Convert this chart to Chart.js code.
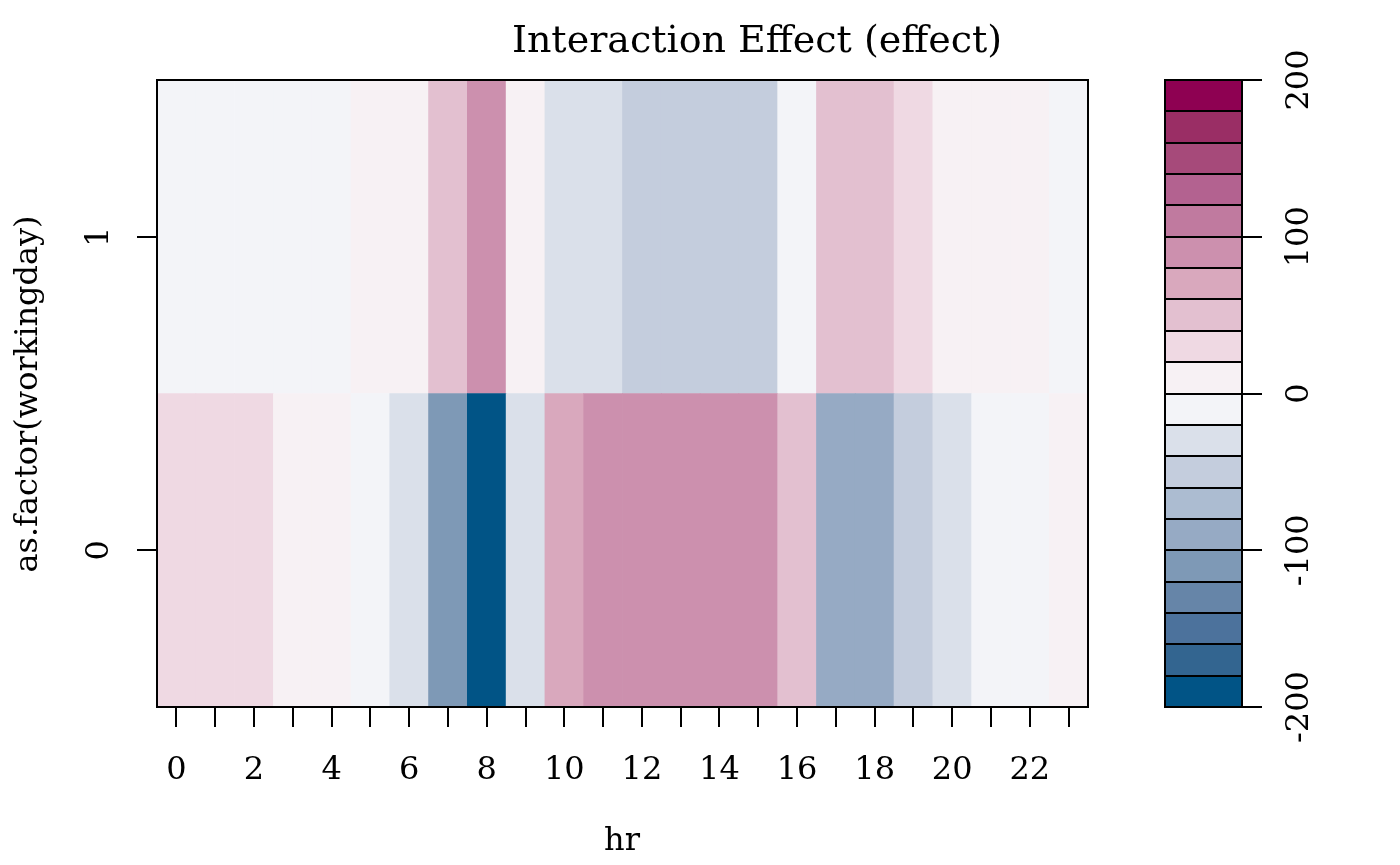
<!DOCTYPE html>
<html>
<head>
<meta charset="utf-8">
<script src="https://cdn.jsdelivr.net/npm/chart.js@4.4.1/dist/chart.umd.min.js"></script>
<style>
  html, body { margin: 0; padding: 0; background: #fff; }
  #wrap { position: relative; width: 1400px; height: 865px; }
  #wrap canvas { position: absolute; left: 0; top: 0; }
</style>
</head>
<body>
<div id="wrap">
  <canvas id="heat" width="1400" height="865"></canvas>
  <canvas id="bar" width="1400" height="865"></canvas>
</div>
<script>
// hours on the x axis
const hours = ["0","1","2","3","4","5","6","7","8","9","10","11","12","13","14","15","16","17","18","19","20","21","22","23"];
// workingday levels on the y axis
const workingday = [0, 1];
// interaction effect per hour
const effectWd0 = [30, 30, 30, 8, 8, -8, -30, -110, -198, -30, 70, 90, 90, 90, 90, 90, 50, -90, -90, -50, -30, -8, -8, 8];
const effectWd1 = [-8, -8, -8, -8, -8, 8, 8, 50, 90, 8, -30, -30, -50, -50, -50, -50, -8, 50, 50, 30, 8, 8, 8, -8];
// colour breaks and palette (blue -> white -> red)
const breaks = [-200, -180, -160, -140, -120, -100, -80, -60, -40, -20, 0, 20, 40, 60, 80, 100, 120, 140, 160, 180, 200];
const palette = ["#015486", "#336590", "#4c729c", "#6685a8", "#7e99b6", "#96aac4", "#acbcd1", "#c4cddd", "#dae0ea", "#f3f4f8",
                 "#f7f1f4", "#efd9e3", "#e3c0d0", "#d9a8bd", "#cc90ae", "#c07a9f", "#b36290", "#a64a7a", "#9a2e65", "#8e0152"];
const legendTicks = [-200, -100, 0, 100, 200];

const FONT = "'DejaVu Serif', serif";

function colourFor(v) {
  for (let i = 0; i < palette.length; i++) {
    if (v < breaks[i + 1]) return palette[i];
  }
  return palette[palette.length - 1];
}

// draws a frame round the plot area
const boxPlugin = {
  id: 'box',
  afterDraw(chart) {
    const a = chart.chartArea, ctx = chart.ctx;
    ctx.save();
    ctx.strokeStyle = '#000';
    ctx.lineWidth = 2;
    ctx.strokeRect(a.left, a.top, a.right - a.left, a.bottom - a.top);
    ctx.restore();
  }
};

// rotated y labels, like R's las=0
function rotatedLabels(axisId, values, x, size) {
  return {
    id: 'rot_' + axisId,
    afterDraw(chart) {
      const ctx = chart.ctx, sc = chart.scales[axisId];
      ctx.save();
      ctx.fillStyle = '#000';
      ctx.font = size + 'px ' + FONT;
      ctx.textAlign = 'center';
      ctx.textBaseline = 'middle';
      values.forEach(v => {
        ctx.save();
        ctx.translate(x, sc.getPixelForValue(v));
        ctx.rotate(-Math.PI / 2);
        ctx.fillText(String(v), 0, 0);
        ctx.restore();
      });
      ctx.restore();
    }
  };
}

const textPlugin = {
  id: 'texts',
  afterDraw(chart) {
    const ctx = chart.ctx;
    ctx.save();
    ctx.fillStyle = '#000';
    ctx.textAlign = 'center';
    ctx.textBaseline = 'middle';
    ctx.font = '38px ' + FONT;
    ctx.fillText('Interaction Effect (effect)', 757, 42);
    ctx.font = '32px ' + FONT;
    ctx.fillText('hr', 622, 842);
    ctx.save();
    ctx.translate(29, 394);
    ctx.rotate(-Math.PI / 2);
    ctx.fillText('as.factor(workingday)', 0, 0);
    ctx.restore();
    ctx.restore();
  }
};

new Chart(document.getElementById('heat'), {
  type: 'bar',
  data: {
    labels: hours,
    datasets: [
      {
        data: effectWd0.map(() => [workingday[0] - 0.5, workingday[0] + 0.5]),
        backgroundColor: effectWd0.map(colourFor)
      },
      {
        data: effectWd1.map(() => [workingday[1] - 0.5, workingday[1] + 0.5]),
        backgroundColor: effectWd1.map(colourFor)
      }
    ].map(d => Object.assign(d, { grouped: false, barPercentage: 1, categoryPercentage: 1, borderWidth: 0 }))
  },
  options: {
    responsive: false,
    animation: false,
    layout: { padding: { top: 80, right: 312, left: 0, bottom: 0 } },
    plugins: { legend: { display: false }, tooltip: { enabled: false } },
    scales: {
      x: {
        offset: true,
        grid: { offset: false, drawOnChartArea: false, color: '#000', lineWidth: 2, tickLength: 20 },
        border: { display: false },
        ticks: {
          autoSkip: false, maxRotation: 0, color: '#000', padding: 24,
          font: { family: FONT, size: 32 },
          callback: function (v, i) { return i % 2 === 0 ? this.getLabelForValue(v) : ''; }
        },
        afterFit(s) { s.height = 158; }
      },
      y: {
        min: -0.5, max: 1.5,
        afterBuildTicks(s) { s.ticks = workingday.map(v => ({ value: v })); },
        grid: { drawOnChartArea: false, color: '#000', lineWidth: 2, tickLength: 20 },
        border: { display: false },
        ticks: { display: false },
        afterFit(s) { s.width = 157; }
      }
    }
  },
  plugins: [boxPlugin, textPlugin, rotatedLabels('y', workingday, 100, 32)]
});

new Chart(document.getElementById('bar'), {
  type: 'bar',
  data: {
    labels: [''],
    datasets: palette.map((c, i) => ({
      data: [[breaks[i], breaks[i + 1]]],
      backgroundColor: c,
      borderWidth: 0,
      grouped: false,
      barPercentage: 1,
      categoryPercentage: 1
    }))
  },
  options: {
    responsive: false,
    animation: false,
    layout: { padding: { top: 80, left: 1165, right: 0, bottom: 158 } },
    plugins: { legend: { display: false }, tooltip: { enabled: false } },
    scales: {
      x: { display: false },
      // separator lines between the colour bins
      bins: {
        axis: 'y',
        position: 'left',
        min: -200, max: 200,
        afterBuildTicks(s) { s.ticks = breaks.map(v => ({ value: v })); },
        grid: { drawOnChartArea: true, drawTicks: false, color: '#000', lineWidth: 2, z: 1 },
        border: { display: false },
        ticks: { display: false },
        afterFit(s) { s.width = 0; }
      },
      y: {
        position: 'right',
        min: -200, max: 200,
        afterBuildTicks(s) { s.ticks = legendTicks.map(v => ({ value: v })); },
        grid: { drawOnChartArea: false, color: '#000', lineWidth: 2, tickLength: 20 },
        border: { display: false },
        ticks: { display: false },
        afterFit(s) { s.width = 158; }
      }
    }
  },
  plugins: [boxPlugin, rotatedLabels('y', legendTicks, 1300, 32)]
});
</script>
</body>
</html>
